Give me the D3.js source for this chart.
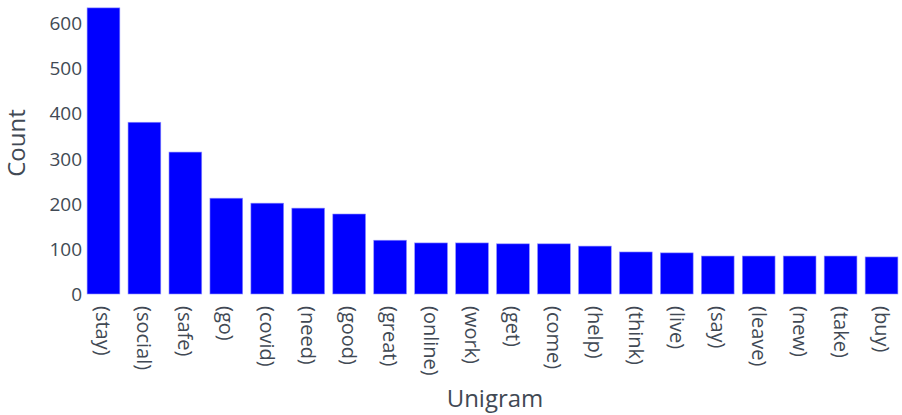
<!DOCTYPE html>
<html><head><meta charset="utf-8">
<script src="https://cdn.jsdelivr.net/npm/d3@7"></script>
<style>body{margin:0;background:#fff;}svg{display:block;font-family:"Open Sans",sans-serif;}</style>
</head><body><div id="chart"></div>
<script>
const categories = ["(stay)","(social)","(safe)","(go)","(covid)","(need)","(good)","(great)","(online)","(work)","(get)","(come)","(help)","(think)","(live)","(say)","(leave)","(new)","(take)","(buy)"];
const counts = [633,380,314,212,201,190,177,119,113,113,111,111,106,93,91,84,84,84,84,82];
const yTicks = [0,100,200,300,400,500,600];

const W = 902, H = 415;
const svg = d3.select("#chart").append("svg").attr("width", W).attr("height", H);
const x = d3.scaleBand().domain(categories).range([83, 902]).paddingInner(0.2).paddingOuter(0.1);
const y = d3.scaleLinear().domain([0, 600]).range([294, 22.8]);
const color = "#414954";

svg.append("g").selectAll("rect").data(counts).join("rect")
  .attr("x", (d,i) => x(categories[i]))
  .attr("width", x.bandwidth())
  .attr("y", d => y(d))
  .attr("height", d => y(0) - y(d))
  .attr("fill", "#0000ff")
  .attr("stroke", "#8f8fff").attr("stroke-width", 0.6);

const yAxis = svg.append("g").attr("transform", "translate(82,0)")
  .call(d3.axisLeft(y).tickValues(yTicks).tickSize(0).tickPadding(0).tickFormat(d3.format("d")));
yAxis.select(".domain").remove();
yAxis.selectAll("text").attr("font-size", 19).attr("fill", color).attr("dy", "0.35em").attr("font-family", "Open Sans");

const xAxis = svg.append("g").attr("transform", "translate(0,302)")
  .call(d3.axisBottom(x).tickSize(0).tickPadding(0));
xAxis.select(".domain").remove();
xAxis.selectAll("text")
  .attr("font-size", 20).attr("fill", color).attr("font-family", "Open Sans")
  .attr("text-anchor", "start")
  .attr("transform", "rotate(90)")
  .attr("x", 4).attr("y", 0).attr("dy", "0.35em");

svg.append("text").attr("transform", "translate(25,143) rotate(-90)")
  .attr("text-anchor", "middle").attr("font-size", 24).attr("fill", color).text("Count");
svg.append("text").attr("x", 495).attr("y", 407)
  .attr("text-anchor", "middle").attr("font-size", 24).attr("fill", color).text("Unigram");
</script></body></html>
